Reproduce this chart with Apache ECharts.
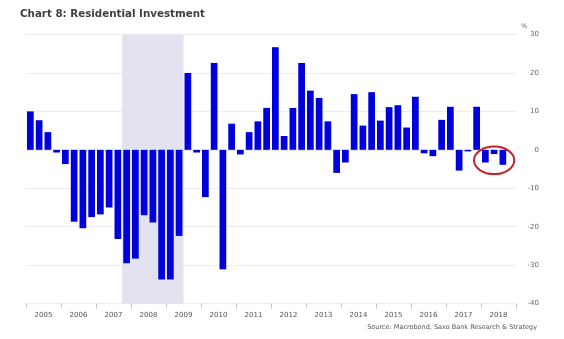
<!DOCTYPE html>
<html><head><meta charset="utf-8">
<script src="https://cdn.jsdelivr.net/npm/echarts@6/dist/echarts.min.js"></script>
<style>html,body{margin:0;padding:0;background:#fff}#c{width:564px;height:339px}</style>
</head><body><div id="c"></div>
<script>
const years = ['2005','2006','2007','2008','2009','2010','2011','2012','2013','2014','2015','2016','2017','2018'];
const quarterNames = ['Q1','Q2','Q3','Q4'];
const values = [
  10.0, 7.7, 4.6, -0.7,
  -3.7, -18.7, -20.4, -17.5,
  -16.8, -15.0, -23.2, -29.5,
  -28.3, -17.0, -18.9, -33.7,
  -33.7, -22.4, 20.0, -0.7,
  -12.3, 22.6, -31.1, 6.8,
  -1.2, 4.6, 7.4, 10.9,
  26.7, 3.6, 10.9, 22.6,
  15.4, 13.5, 7.4, -6.0,
  -3.3, 14.5, 6.3, 15.0,
  7.6, 11.1, 11.6, 5.8,
  13.8, -0.9, -1.65, 7.8,
  11.2, -5.4, -0.4, 11.2,
  -3.3, -1.1, -3.9
];
const recession = ['2007Q4', '2009Q2'];
const highlighted = ['2018Q1', '2018Q3'];
const yMin = -40, yMax = 30, yStep = 10;
const unitText = '%';
const titleText = 'Chart 8: Residential Investment';
const sourceText = 'Source: Macrobond, Saxo Bank Research & Strategy';

const quarters = [];
years.forEach(y => quarterNames.forEach(q => quarters.push(y + q)));
const barData = values.map((v, i) => [i + 0.5, v]);
const recStart = quarters.indexOf(recession[0]);
const recEnd = quarters.indexOf(recession[1]) + 1;

const chart = echarts.init(document.getElementById('c'), null, {renderer: 'canvas'});
const FONT = 'DejaVu Sans';
chart.setOption({
  animation: false,
  backgroundColor: '#fff',
  title: [
    {text: titleText, left: 20, top: 9, padding: 0,
     textStyle: {fontFamily: FONT, fontSize: 10.3, fontWeight: 'bold', color: '#3f3f3f'}},
    {text: sourceText, right: 27, top: 324, padding: 0,
     textStyle: {fontFamily: FONT, fontSize: 6.5, fontWeight: 'normal', color: '#555'}}
  ],
  grid: {left: 26, right: 48, top: 34.5, bottom: 35.4},
  xAxis: [
    {type: 'value', min: 0, max: quarters.length, show: false},
    {type: 'category', data: years, position: 'bottom', boundaryGap: true,
     axisLine: {show: true, lineStyle: {color: '#eeeeee'}},
     axisTick: {show: true, length: 5, lineStyle: {color: '#c8c8c8'}},
     axisLabel: {fontFamily: FONT, fontSize: 7, color: '#555', margin: 8}}
  ],
  yAxis: {
    type: 'value', position: 'right', min: yMin, max: yMax, interval: yStep,
    axisLine: {show: false}, axisTick: {show: false},
    axisLabel: {fontFamily: FONT, fontSize: 7, color: '#666', align: 'right', margin: 23},
    splitLine: {lineStyle: {color: '#ececec'}}
  },
  series: [{
    type: 'bar', xAxisIndex: 0, yAxisIndex: 0, data: barData, barWidth: 6.7,
    itemStyle: {color: '#0000dc'},
    markArea: {silent: true, itemStyle: {color: '#e2e2f1'},
      data: [[{xAxis: recStart}, {xAxis: recEnd}]]}
  }]
});

// red ellipse around highlighted bars, and unit label above the value axis
const h0 = quarters.indexOf(highlighted[0]), h1 = quarters.indexOf(highlighted[1]);
const hv = values.slice(h0, h1 + 1);
const pLeft = chart.convertToPixel({xAxisIndex: 0, yAxisIndex: 0}, [h0, Math.max(0, ...hv)]);
const pRight = chart.convertToPixel({xAxisIndex: 0, yAxisIndex: 0}, [h1 + 1, Math.min(...hv)]);
const cx = (pLeft[0] + pRight[0]) / 2;
const cy = (pLeft[1] + pRight[1]) / 2 + 3;
const axisTop = chart.convertToPixel({xAxisIndex: 0, yAxisIndex: 0}, [quarters.length, yMax]);
chart.setOption({
  graphic: [
    {type: 'ellipse', shape: {cx: cx, cy: cy, rx: (pRight[0] - pLeft[0]) / 2 + 7, ry: 13.8},
     style: {fill: 'none', stroke: '#c0262c', lineWidth: 2}, z: 100},
    {type: 'text', x: axisTop[0] + 5, y: axisTop[1] - 8,
     style: {text: unitText, font: '6.5px "DejaVu Sans"', fill: '#666', textAlign: 'left', textVerticalAlign: 'middle'}}
  ]
});
</script></body></html>
